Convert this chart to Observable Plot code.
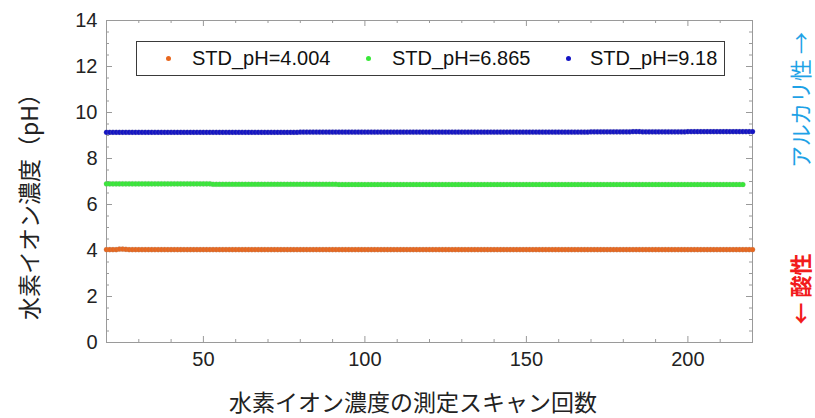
<!DOCTYPE html>
<html><head><meta charset="utf-8">
<script src="https://cdn.jsdelivr.net/npm/d3@7"></script>
<script src="https://cdn.jsdelivr.net/npm/@observablehq/plot@0.6"></script>
<style>
body{margin:0;background:#fff;}
#wrap{position:relative;width:815px;height:418px;overflow:hidden;}
.legend{position:absolute;left:136px;top:41px;width:589px;height:35px;border:1px solid #3a3a3a;box-sizing:border-box;background:#fff;font-family:"Liberation Sans",Arial,sans-serif;font-size:20px;color:#111;}
.legend .dot{position:absolute;top:14px;width:5px;height:5px;border-radius:50%;}
.legend .lab{position:absolute;top:5px;line-height:22px;white-space:nowrap;}
.rot{position:absolute;white-space:nowrap;font-family:'Noto Sans CJK JP','Noto Sans',sans-serif;font-size:23px;line-height:1;writing-mode:vertical-rl;text-orientation:sideways;transform:translate(-50%,-50%) rotate(180deg);}
.rot.side{font-size:22px;}
.htitle{position:absolute;white-space:nowrap;font-family:'Noto Sans CJK JP','Noto Sans',sans-serif;font-size:23px;line-height:1;transform:translate(-50%,-50%);color:#222;}
</style>
</head><body>
<div id="wrap"></div>
<script>
// ---- data ----
const scanStart = 20;           // first scan number on the x axis
const seriesNames = ["STD_pH=4.004", "STD_pH=6.865", "STD_pH=9.18"];

// STD pH 4.004, scans 20..220
const ph4004 = [
4.04,4.04,4.04,4.04,4.06,4.06,4.05,4.04,4.04,4.04,4.04,4.04,4.04,4.04,4.04,4.04,4.04,4.04,4.04,4.04,
4.04,4.04,4.04,4.04,4.04,4.04,4.04,4.04,4.04,4.04,4.04,4.04,4.04,4.04,4.04,4.04,4.04,4.04,4.04,4.04,
4.04,4.04,4.04,4.04,4.04,4.04,4.04,4.04,4.04,4.04,4.04,4.04,4.04,4.04,4.04,4.04,4.04,4.04,4.04,4.04,
4.04,4.04,4.04,4.04,4.04,4.04,4.04,4.04,4.04,4.04,4.04,4.04,4.04,4.04,4.04,4.04,4.04,4.04,4.04,4.04,
4.04,4.04,4.04,4.04,4.04,4.04,4.04,4.04,4.04,4.04,4.04,4.04,4.04,4.04,4.04,4.04,4.04,4.04,4.04,4.04,
4.04,4.04,4.04,4.04,4.04,4.04,4.04,4.04,4.04,4.04,4.04,4.04,4.04,4.04,4.04,4.04,4.04,4.04,4.04,4.04,
4.04,4.04,4.04,4.04,4.04,4.04,4.04,4.04,4.04,4.04,4.04,4.04,4.04,4.04,4.04,4.04,4.04,4.04,4.04,4.04,
4.04,4.04,4.04,4.04,4.04,4.04,4.04,4.04,4.04,4.04,4.04,4.04,4.04,4.04,4.04,4.04,4.04,4.04,4.04,4.04,
4.04,4.04,4.04,4.04,4.04,4.04,4.04,4.04,4.04,4.04,4.04,4.04,4.04,4.04,4.04,4.04,4.04,4.04,4.04,4.04,
4.04,4.04,4.04,4.04,4.04,4.04,4.04,4.04,4.04,4.04,4.04,4.04,4.04,4.04,4.04,4.04,4.04,4.04,4.04,4.04,
4.04
];

// STD pH 6.865, scans 20..217
const ph6865 = [
6.90,6.90,6.90,6.90,6.90,6.90,6.90,6.90,6.90,6.90,6.90,6.90,6.90,6.90,6.90,6.90,6.90,6.90,6.90,6.90,
6.90,6.90,6.90,6.90,6.90,6.90,6.90,6.90,6.90,6.90,6.90,6.90,6.90,6.88,6.88,6.88,6.88,6.88,6.88,6.88,
6.88,6.88,6.88,6.88,6.88,6.88,6.88,6.88,6.88,6.88,6.88,6.88,6.88,6.88,6.88,6.88,6.88,6.88,6.88,6.88,
6.88,6.88,6.88,6.88,6.88,6.88,6.88,6.88,6.88,6.88,6.88,6.88,6.87,6.87,6.87,6.87,6.87,6.87,6.87,6.87,
6.87,6.87,6.87,6.87,6.87,6.87,6.87,6.87,6.87,6.87,6.87,6.87,6.87,6.87,6.87,6.87,6.87,6.87,6.87,6.87,
6.87,6.87,6.87,6.87,6.87,6.87,6.87,6.87,6.87,6.87,6.87,6.87,6.87,6.87,6.87,6.87,6.87,6.87,6.87,6.87,
6.87,6.87,6.87,6.87,6.87,6.87,6.87,6.87,6.87,6.87,6.87,6.87,6.87,6.87,6.87,6.87,6.87,6.87,6.87,6.87,
6.87,6.87,6.87,6.87,6.87,6.87,6.87,6.87,6.87,6.87,6.87,6.87,6.87,6.87,6.87,6.87,6.87,6.87,6.87,6.87,
6.87,6.87,6.87,6.87,6.87,6.87,6.87,6.87,6.87,6.87,6.87,6.87,6.87,6.87,6.87,6.87,6.87,6.87,6.87,6.87,
6.87,6.87,6.87,6.87,6.87,6.87,6.87,6.87,6.87,6.87,6.87,6.87,6.87,6.87,6.87,6.87,6.87,6.87
];

// STD pH 9.18, scans 20..220
const ph918 = [
9.14,9.14,9.14,9.14,9.14,9.14,9.14,9.14,9.14,9.14,9.14,9.14,9.14,9.14,9.14,9.14,9.14,9.14,9.14,9.14,
9.14,9.14,9.14,9.14,9.14,9.14,9.14,9.14,9.14,9.14,9.14,9.14,9.14,9.14,9.14,9.14,9.14,9.14,9.14,9.14,
9.14,9.14,9.14,9.14,9.14,9.14,9.14,9.14,9.14,9.14,9.14,9.14,9.14,9.14,9.14,9.14,9.14,9.14,9.14,9.14,
9.15,9.15,9.15,9.15,9.15,9.15,9.15,9.15,9.15,9.15,9.15,9.15,9.15,9.15,9.15,9.15,9.15,9.15,9.15,9.15,
9.15,9.15,9.15,9.15,9.15,9.15,9.15,9.15,9.15,9.15,9.15,9.15,9.15,9.15,9.15,9.15,9.15,9.15,9.15,9.15,
9.15,9.15,9.15,9.15,9.15,9.15,9.15,9.15,9.15,9.15,9.15,9.15,9.15,9.15,9.15,9.15,9.15,9.15,9.15,9.15,
9.15,9.15,9.15,9.15,9.15,9.15,9.15,9.15,9.15,9.15,9.15,9.15,9.15,9.15,9.15,9.15,9.15,9.15,9.15,9.15,
9.15,9.15,9.15,9.15,9.15,9.15,9.15,9.15,9.15,9.15,9.16,9.16,9.16,9.16,9.16,9.16,9.16,9.16,9.16,9.16,
9.16,9.16,9.16,9.17,9.17,9.17,9.16,9.16,9.16,9.16,9.16,9.16,9.16,9.16,9.16,9.16,9.16,9.16,9.16,9.16,
9.17,9.17,9.17,9.17,9.17,9.17,9.17,9.17,9.17,9.17,9.17,9.17,9.17,9.17,9.17,9.17,9.17,9.17,9.17,9.17,
9.17
];

const xMajorTicks = [50, 100, 150, 200];
const yMajorTicks = [0, 2, 4, 6, 8, 10, 12, 14];
const xTitle = "水素イオン濃度の測定スキャン回数";
const yTitle = "水素イオン濃度（pH）";
const upLabel = "アルカリ性 →";
const downLabel = "← 酸性";

// ---- styles ----
const seriesColors = ["#e8671e", "#38e838", "#1414c4"];
const W = 815, H = 418, mL = 106, mR = 63, mT = 20, mB = 76;
const fw = W - mL - mR, fh = H - mT - mB;

const rows = [];
[ph4004, ph6865, ph918].forEach((arr, s) => {
  arr.forEach((v, i) => rows.push({scan: scanStart + i, ph: v, series: seriesNames[s]}));
});

const xMinor = d3.range(20, 221, 10).filter(v => !xMajorTicks.includes(v));
const yMinor = d3.range(0, 14.01, 0.5).filter(v => !yMajorTicks.includes(v));
const tickCol = "#9a9a9a";

const chart = Plot.plot({
  width: W, height: H,
  marginLeft: mL, marginRight: mR, marginTop: mT, marginBottom: mB,
  style: {fontFamily: "'Liberation Sans', Arial, sans-serif", fontSize: "20px", color: "#222", background: "#fff"},
  x: {domain: [20, 220]},
  y: {domain: [0, 14]},
  color: {domain: seriesNames, range: seriesColors},
  marks: [
    Plot.frame({stroke: tickCol, strokeWidth: 1}),
    Plot.ruleX(xMinor, {x: d => d, insetTop: fh - 3, stroke: tickCol}),
    Plot.ruleX(xMinor, {x: d => d, insetBottom: fh - 3, stroke: tickCol}),
    Plot.ruleX(xMajorTicks, {x: d => d, insetTop: fh - 6, stroke: tickCol}),
    Plot.ruleX(xMajorTicks, {x: d => d, insetBottom: fh - 6, stroke: tickCol}),
    Plot.ruleY(yMinor, {y: d => d, insetRight: fw - 3, stroke: tickCol}),
    Plot.ruleY(yMinor, {y: d => d, insetLeft: fw - 3, stroke: tickCol}),
    Plot.ruleY(yMajorTicks, {y: d => d, insetRight: fw - 6, stroke: tickCol}),
    Plot.ruleY(yMajorTicks, {y: d => d, insetLeft: fw - 6, stroke: tickCol}),
    Plot.axisX({ticks: xMajorTicks, tickSize: 0, tickPadding: 9, label: null, fontSize: 20}),
    Plot.axisY({ticks: yMajorTicks, tickSize: 0, tickPadding: 9, label: null, fontSize: 20}),
    Plot.dot(rows, {x: "scan", y: "ph", fill: "series", stroke: "#999", strokeOpacity: 0.35, strokeWidth: 0.6, r: 2.6})
  ]
});

const wrap = document.getElementById("wrap");
wrap.appendChild(chart);

function addText(txt, cls, cx, cy, color, weight) {
  const d = document.createElement("div");
  d.className = cls; d.textContent = txt;
  d.style.left = cx + "px"; d.style.top = cy + "px";
  if (color) d.style.color = color;
  if (weight) d.style.fontWeight = weight;
  wrap.appendChild(d);
}
addText(xTitle, "htitle", 413, 401);
addText(yTitle, "rot", 28, 201, "#222");
addText(upLabel, "rot side", 799, 100, "#1ea2e6");
addText(downLabel, "rot side", 799, 289, "#f21c1c", 700);

// legend overlay
const legend = document.createElement("div");
legend.className = "legend";
const dotX = [29, 229, 428.5], labX = [55, 255, 453];
seriesNames.forEach((n, i) => {
  const d = document.createElement("div");
  d.className = "dot"; d.style.left = dotX[i] + "px"; d.style.background = seriesColors[i];
  const t = document.createElement("div");
  t.className = "lab"; t.style.left = labX[i] + "px"; t.textContent = n;
  legend.appendChild(d); legend.appendChild(t);
});
wrap.appendChild(legend);
</script>
</body></html>
